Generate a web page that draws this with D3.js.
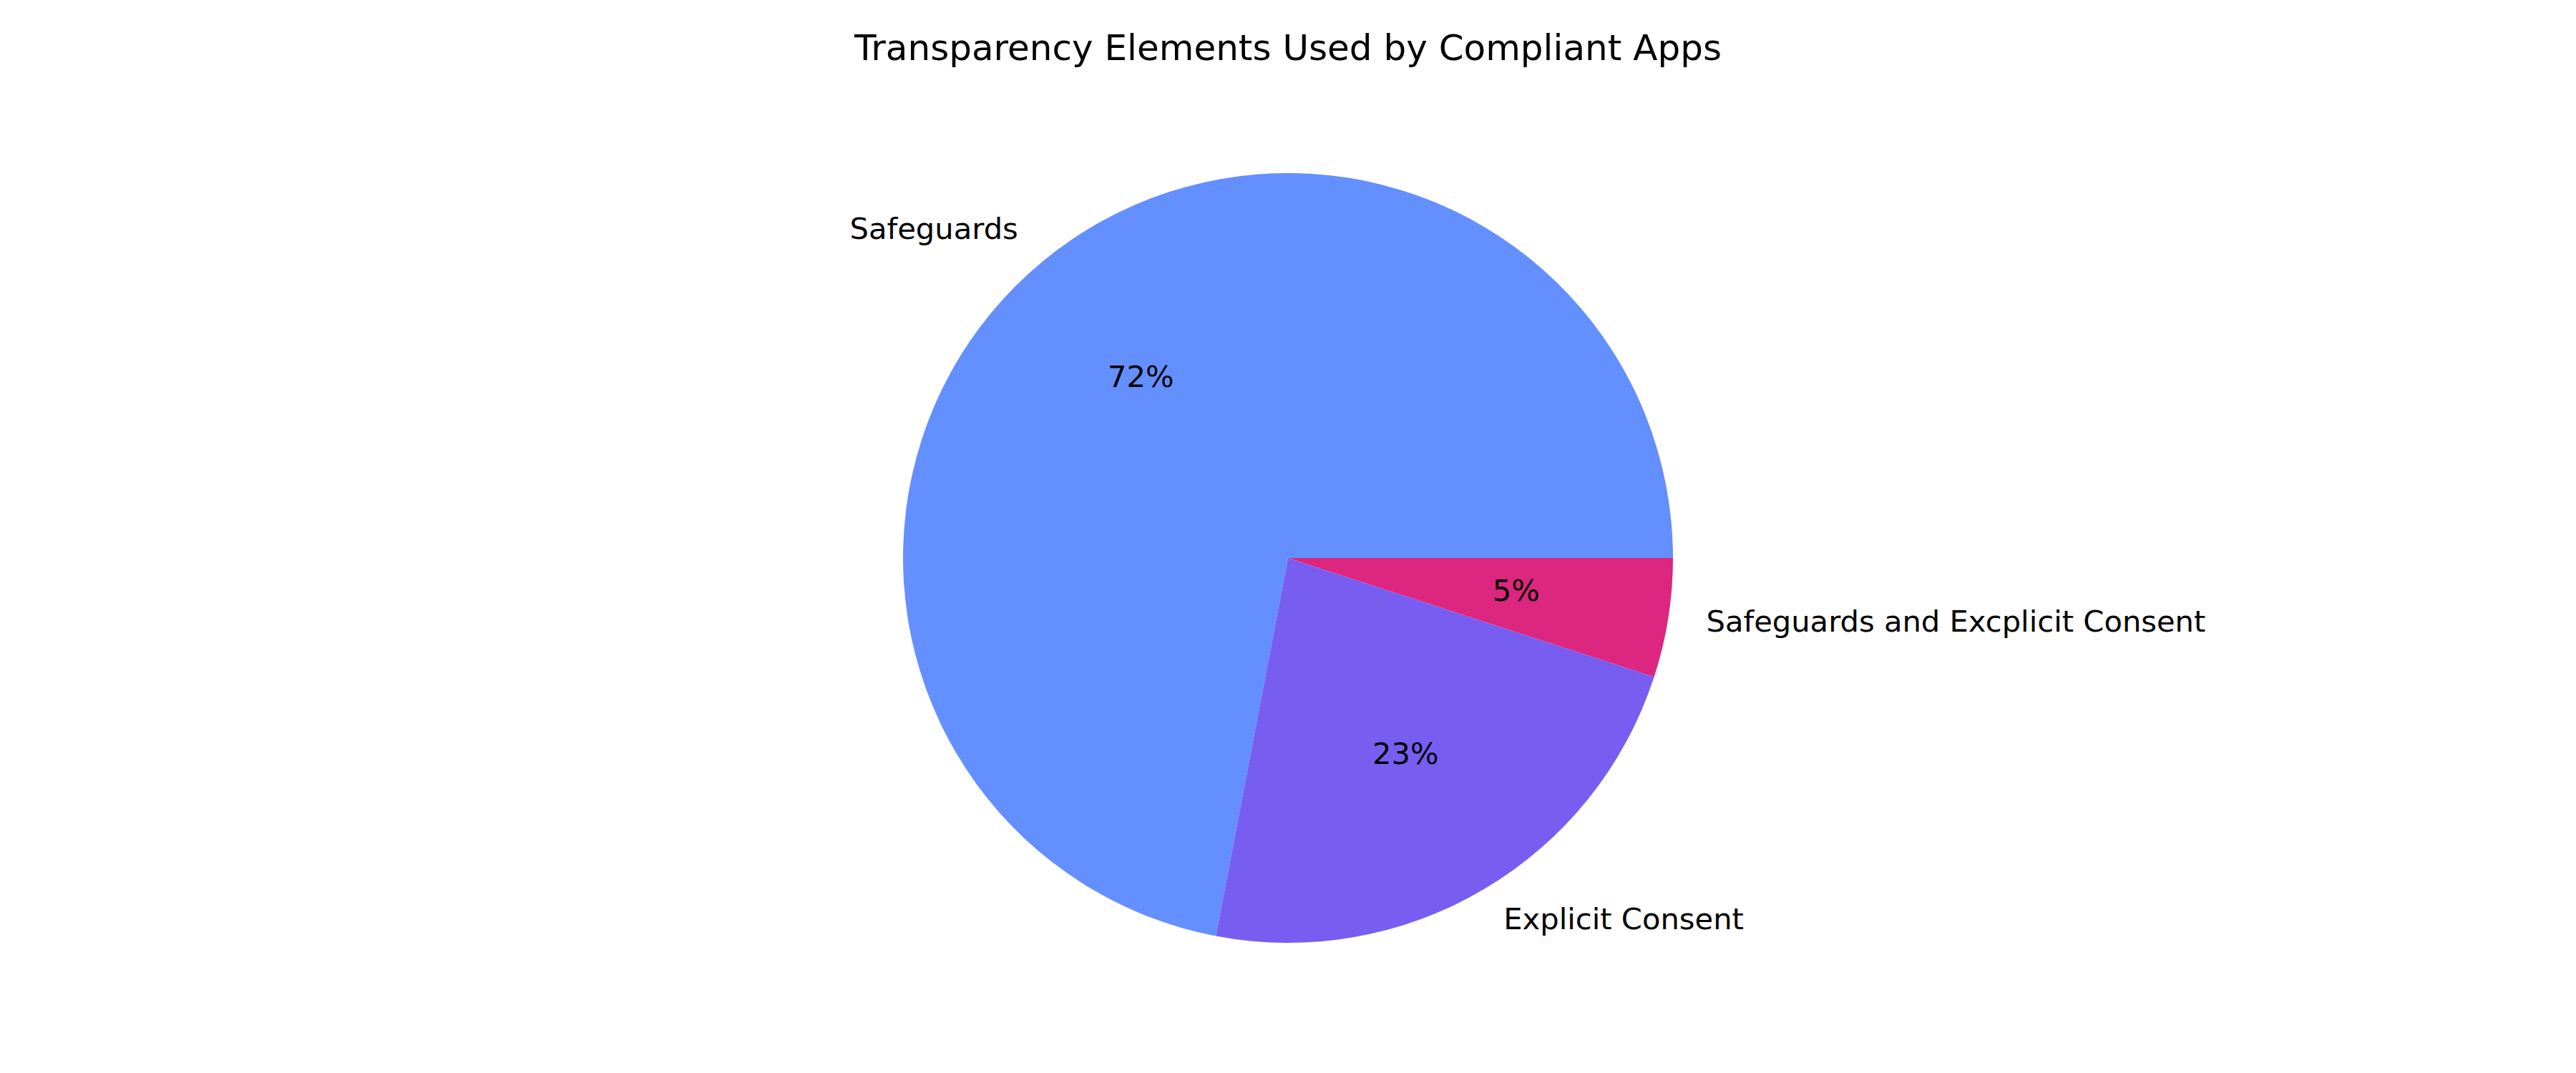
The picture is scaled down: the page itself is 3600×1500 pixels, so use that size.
<!DOCTYPE html>
<html>
<head>
<meta charset="utf-8">
<script src="https://cdn.jsdelivr.net/npm/d3@7"></script>
<style>
  body { margin: 0; background: #fff; }
  svg { display: block; font-family: "DejaVu Sans", sans-serif; }
</style>
</head>
<body>
<svg id="chart" width="3600" height="1500"></svg>
<script>
var categories = ["Safeguards", "Explicit Consent", "Safeguards and Excplicit Consent"];
var shares = [72, 23, 5];
var chartTitle = "Transparency Elements Used by Compliant Apps";

var palette = ["#648FFF", "#785EF0", "#DC267F"];

var svg = d3.select("#chart");
var center = {x: 1800, y: 780};
var radius = 538;

svg.append("text")
  .attr("x", center.x)
  .attr("y", 84)
  .attr("text-anchor", "middle")
  .attr("font-size", 50)
  .attr("fill", "#000")
  .text(chartTitle);

var data = categories.map(function(c, i) { return {name: c, value: shares[i]}; });

// matplotlib style: start at 3 o'clock and go counterclockwise
var pie = d3.pie()
  .sort(null)
  .value(function(d) { return d.value; })
  .startAngle(Math.PI / 2)
  .endAngle(Math.PI / 2 - 2 * Math.PI);

var arcs = pie(data);
var total = d3.sum(shares);

var arc = d3.arc().innerRadius(0).outerRadius(radius);
var labelArc = d3.arc().innerRadius(radius * 1.1).outerRadius(radius * 1.1);
var pctArc = d3.arc().innerRadius(radius * 0.6).outerRadius(radius * 0.6);

var g = svg.append("g")
  .attr("transform", "translate(" + center.x + "," + center.y + ")");

g.selectAll("path").data(arcs).enter()
  .append("path")
  .attr("d", arc)
  .attr("fill", function(d, i) { return palette[i]; });

g.selectAll("text.label").data(arcs).enter()
  .append("text")
  .attr("class", "label")
  .attr("x", function(d) { return labelArc.centroid(d)[0]; })
  .attr("y", function(d) { return labelArc.centroid(d)[1]; })
  .attr("dy", "0.24em")
  .attr("text-anchor", function(d) { return labelArc.centroid(d)[0] < 0 ? "end" : "start"; })
  .attr("font-size", 41.67)
  .attr("fill", "#000")
  .text(function(d) { return d.data.name; });

g.selectAll("text.pct").data(arcs).enter()
  .append("text")
  .attr("class", "pct")
  .attr("x", function(d) { return pctArc.centroid(d)[0]; })
  .attr("y", function(d) { return pctArc.centroid(d)[1]; })
  .attr("dy", "0.24em")
  .attr("text-anchor", "middle")
  .attr("font-size", 41.67)
  .attr("fill", "#000")
  .text(function(d) { return Math.round(d.data.value / total * 100) + "%"; });
</script>
</body>
</html>
